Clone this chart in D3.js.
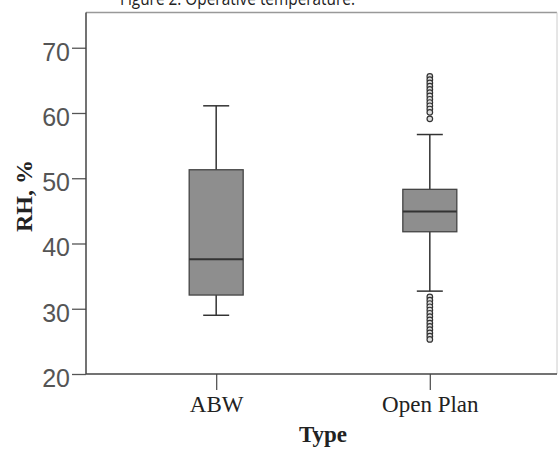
<!DOCTYPE html>
<html>
<head>
    <meta charset="utf-8" />
    <title>RH by office type</title>
    <style>
        body { margin: 0; background-color: white; }
        .tick text { font-family: "Liberation Sans", Arial, sans-serif; }
    </style>
    <script src="https://cdnjs.cloudflare.com/ajax/libs/d3/7.8.5/d3.min.js"></script>
</head>
<body>
    <script>
        // values (RH, %)
        var types = ['ABW', 'Open Plan'];
        var whiskerLow  = [29.0, 32.7];
        var quart1      = [32.1, 41.8];
        var medians     = [37.6, 44.9];
        var quart3      = [51.3, 48.3];
        var whiskerHigh = [61.1, 56.7];
        var outliersABW = [];
        var outliersOpen = [65.6, 65.1, 64.6, 64.1, 63.6, 63.1, 62.6, 62.1, 61.6, 61.1, 60.6, 60.1, 59.1,
                            31.8, 31.3, 30.8, 30.3, 29.8, 29.3, 28.8, 28.3, 27.8, 27.3, 26.8, 26.3, 25.8, 25.3];
        var yTicks = [20, 30, 40, 50, 60, 70];

        var width = 559, height = 450;
        var plotLeft = 86, plotRight = 557, plotTop = 12.5, plotBottom = 374;

        var svg = d3.select("body").append("svg")
                    .attr("width", width)
                    .attr("height", height);

        var x = d3.scalePoint().domain(types).range([88, 558]).padding(0.6);
        var y = d3.scaleLinear().domain([20, 75.4]).range([plotBottom, plotTop]);

        // caption, cut off at the top of the scan
        svg.append("text")
            .attr("x", 120).attr("y", 5)
            .attr("textLength", 235).attr("lengthAdjust", "spacingAndGlyphs")
            .style("font", "19px 'Open Sans', sans-serif")
            .style("fill", "#222")
            .text("Figure 2: Operative temperature.");

        // frame
        svg.append("line").attr("x1", plotLeft).attr("x2", plotRight).attr("y1", plotTop).attr("y2", plotTop)
            .attr("stroke", "#999").attr("stroke-width", 1.3);
        svg.append("line").attr("x1", plotRight).attr("x2", plotRight).attr("y1", plotTop).attr("y2", plotBottom)
            .attr("stroke", "#ccc").attr("stroke-width", 1);

        // axes
        var yAxis = svg.append("g")
            .attr("transform", "translate(" + plotLeft + ",0)")
            .call(d3.axisLeft(y).tickValues(yTicks).tickSize(14).tickPadding(2));
        yAxis.select(".domain").remove();
        yAxis.selectAll(".tick line").attr("stroke", "#555").attr("stroke-width", 1.3);
        yAxis.selectAll(".tick text")
            .attr("dy", "0.5em")
            .style("font-size", "25px")
            .style("fill", "#555");

        var xAxis = svg.append("g")
            .attr("transform", "translate(0," + plotBottom + ")")
            .call(d3.axisBottom(x).tickSize(16).tickPadding(6));
        xAxis.select(".domain").remove();
        xAxis.selectAll(".tick line").attr("stroke", "#555").attr("stroke-width", 1.3);
        xAxis.selectAll(".tick text")
            .style("font-family", "'Liberation Serif', 'Times New Roman', serif")
            .style("font-size", "23px")
            .style("fill", "#222");

        svg.append("line").attr("x1", plotLeft).attr("x2", plotLeft).attr("y1", plotTop).attr("y2", plotBottom)
            .attr("stroke", "#444").attr("stroke-width", 1.5);
        svg.append("line").attr("x1", plotLeft).attr("x2", plotRight).attr("y1", plotBottom).attr("y2", plotBottom)
            .attr("stroke", "#444").attr("stroke-width", 1.5);

        // axis titles
        svg.append("text")
            .attr("transform", "translate(32,196) rotate(-90)")
            .attr("text-anchor", "middle")
            .style("font", "bold 24px 'Liberation Serif', 'Times New Roman', serif")
            .style("fill", "#222")
            .text("RH, %");
        svg.append("text")
            .attr("x", 323).attr("y", 442)
            .attr("text-anchor", "middle")
            .style("font", "bold 23px 'Liberation Serif', 'Times New Roman', serif")
            .style("fill", "#222")
            .text("Type");

        // boxes
        var boxW = 54, capW = 26;
        var g = svg.selectAll(".box").data(types).enter().append("g").attr("class", "box");

        g.append("line")
            .attr("x1", d => x(d)).attr("x2", d => x(d))
            .attr("y1", (d, i) => y(whiskerHigh[i])).attr("y2", (d, i) => y(whiskerLow[i]))
            .attr("stroke", "#333").attr("stroke-width", 1.5);
        g.append("line")
            .attr("x1", d => x(d) - capW / 2).attr("x2", d => x(d) + capW / 2)
            .attr("y1", (d, i) => y(whiskerHigh[i])).attr("y2", (d, i) => y(whiskerHigh[i]))
            .attr("stroke", "#333").attr("stroke-width", 1.5);
        g.append("line")
            .attr("x1", d => x(d) - capW / 2).attr("x2", d => x(d) + capW / 2)
            .attr("y1", (d, i) => y(whiskerLow[i])).attr("y2", (d, i) => y(whiskerLow[i]))
            .attr("stroke", "#333").attr("stroke-width", 1.5);
        g.append("rect")
            .attr("x", d => x(d) - boxW / 2).attr("width", boxW)
            .attr("y", (d, i) => y(quart3[i]))
            .attr("height", (d, i) => y(quart1[i]) - y(quart3[i]))
            .attr("fill", "#8e8e8e").attr("stroke", "#444").attr("stroke-width", 1.3);
        g.append("line")
            .attr("x1", d => x(d) - boxW / 2).attr("x2", d => x(d) + boxW / 2)
            .attr("y1", (d, i) => y(medians[i])).attr("y2", (d, i) => y(medians[i]))
            .attr("stroke", "#333").attr("stroke-width", 2);

        // outliers
        var outs = [outliersABW, outliersOpen];
        types.forEach(function(t, i) {
            svg.selectAll(null).data(outs[i]).enter().append("circle")
                .attr("cx", x(t)).attr("cy", d => y(d)).attr("r", 2.8)
                .attr("fill", "#ddd").attr("stroke", "#333").attr("stroke-width", 1.2);
        });
    </script>
</body>
</html>
